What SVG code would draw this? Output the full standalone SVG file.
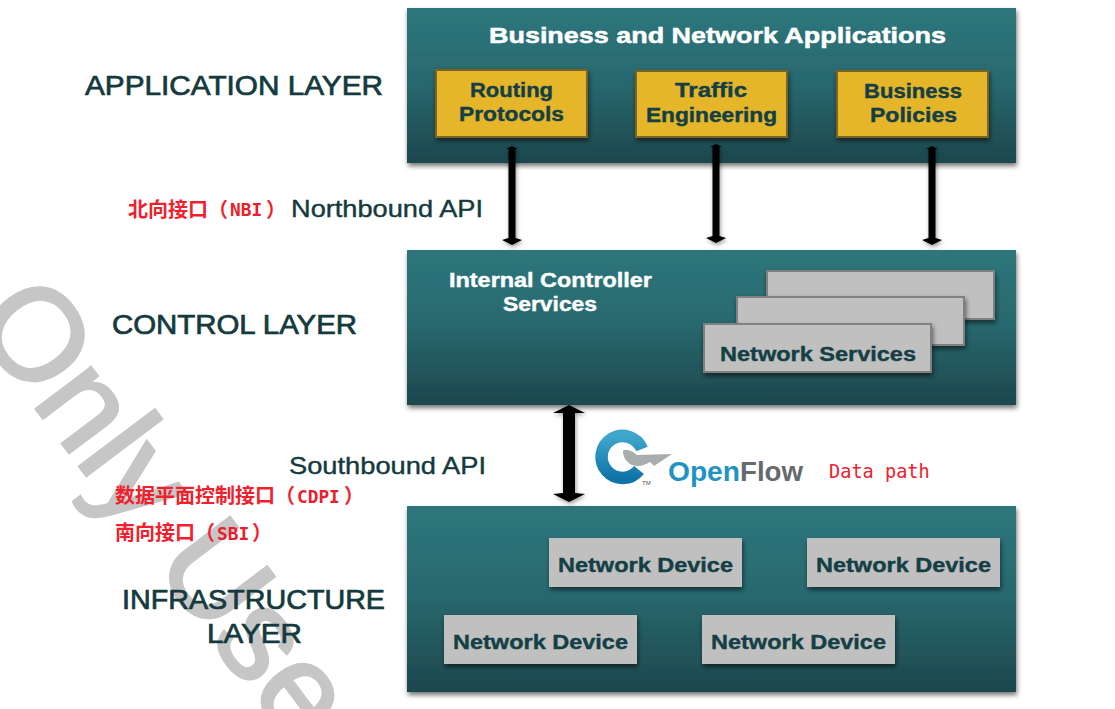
<svg xmlns="http://www.w3.org/2000/svg" width="1115" height="709" viewBox="0 0 1115 709">
<style>
text{font-family:"Liberation Sans",Arial,sans-serif}
.layer{font-size:27px;fill:#143a3e;stroke:#143a3e;stroke-width:.7px}
.api{font-size:24px;fill:#143a3e;stroke:#143a3e;stroke-width:.4px}
.panel{fill:url(#teal);filter:url(#sh)}
.gold{fill:#e5b52a;stroke:#7d6420;stroke-width:2px;filter:url(#sh)}
.grey{fill:#c0c0c0;stroke:#808080;stroke-width:2px;filter:url(#sh)}
.plain{fill:#c0c0c0;filter:url(#sh)}
.box{font-size:20px;font-weight:bold;fill:#143f44;stroke:#143f44;stroke-width:.4px}
.title{font-size:22px;font-weight:bold;fill:#fff;stroke:#fff;stroke-width:.5px}
.white{font-size:20px;font-weight:bold;fill:#fff;stroke:#fff;stroke-width:.4px}
.cn{font-size:20px;font-weight:bold;fill:#f0202c;font-family:"Noto Sans CJK SC","DejaVu Sans Mono",monospace}
.mono{font-family:"DejaVu Sans Mono","Liberation Mono",monospace;font-size:17.8px;font-weight:bold;fill:#e8202c}
.head{fill:#000}
</style>
<defs>
<linearGradient id="teal" x1="0" y1="0" x2="0" y2="1"><stop offset="0" stop-color="#2e767c"/><stop offset=".45" stop-color="#286a70"/><stop offset="1" stop-color="#1d474d"/></linearGradient>
<linearGradient id="ring" x1="0" y1="0" x2="0" y2="1"><stop offset="0" stop-color="#3fa6cc"/><stop offset="1" stop-color="#0f74a8"/></linearGradient>
<filter id="sh" x="-10%" y="-10%" width="120%" height="130%"><feDropShadow dx="1" dy="3" stdDeviation="2.5" flood-color="#000" flood-opacity=".55"/></filter>
<filter id="sh2" x="-100%" y="-10%" width="300%" height="120%"><feDropShadow dx="1" dy="2" stdDeviation="2" flood-color="#000" flood-opacity=".4"/></filter>
</defs>

<g id="watermark"><text transform="translate(-30 321) rotate(53)" font-size="130" fill="#c6c6c6" stroke="#c6c6c6" stroke-width="3" style="font-family:'Liberation Sans',sans-serif">Only Use</text></g>

<g id="application-layer">
<rect class="panel" x="407" y="8" width="609" height="155"/>
<text class="title" x="489" y="43" textLength="457" lengthAdjust="spacingAndGlyphs">Business and Network Applications</text>
<text class="layer" x="85" y="95" textLength="298" lengthAdjust="spacingAndGlyphs">APPLICATION LAYER</text>
</g>
<g id="routing-protocols"><rect class="gold" x="436" y="70" width="151" height="67"/><text class="box" x="470" y="97" textLength="83" lengthAdjust="spacingAndGlyphs">Routing</text><text class="box" x="459" y="121" textLength="105" lengthAdjust="spacingAndGlyphs">Protocols</text></g>
<g id="traffic-engineering"><rect class="gold" x="636" y="71" width="151" height="66"/><text class="box" x="675" y="97" textLength="72" lengthAdjust="spacingAndGlyphs">Traffic</text><text class="box" x="646" y="122" textLength="131" lengthAdjust="spacingAndGlyphs">Engineering</text></g>
<g id="business-policies"><rect class="gold" x="837" y="71" width="151" height="66"/><text class="box" x="864" y="98" textLength="98" lengthAdjust="spacingAndGlyphs">Business</text><text class="box" x="870" y="122" textLength="87" lengthAdjust="spacingAndGlyphs">Policies</text></g>

<g id="control-layer">
<rect class="panel" x="407" y="250" width="609" height="155"/>
<text class="white" x="449" y="287" textLength="203" lengthAdjust="spacingAndGlyphs">Internal Controller</text>
<text class="white" x="503" y="311" textLength="94" lengthAdjust="spacingAndGlyphs">Services</text>
<text class="layer" x="112" y="334" textLength="245" lengthAdjust="spacingAndGlyphs">CONTROL LAYER</text>
</g>
<g id="network-services">
<rect class="grey" x="767" y="271" width="227" height="48"/>
<rect class="grey" x="737" y="297" width="227" height="48"/>
<rect class="grey" x="704" y="324" width="227" height="48"/>
<text class="box" x="720" y="361" textLength="196" lengthAdjust="spacingAndGlyphs">Network Services</text>
</g>

<g id="infrastructure-layer">
<rect class="panel" x="407" y="506" width="609" height="186"/>
<text class="layer" x="122" y="609" textLength="263" lengthAdjust="spacingAndGlyphs">INFRASTRUCTURE</text>
<text class="layer" x="207" y="643" textLength="95" lengthAdjust="spacingAndGlyphs">LAYER</text>
</g>
<g id="device-1"><rect class="plain" x="549" y="538" width="193" height="49"/><text class="box" x="558" y="572" textLength="175" lengthAdjust="spacingAndGlyphs">Network Device</text></g>
<g id="device-2"><rect class="plain" x="807" y="538" width="193" height="49"/><text class="box" x="816" y="572" textLength="175" lengthAdjust="spacingAndGlyphs">Network Device</text></g>
<g id="device-3"><rect class="plain" x="444" y="615" width="193" height="49"/><text class="box" x="453" y="649" textLength="175" lengthAdjust="spacingAndGlyphs">Network Device</text></g>
<g id="device-4"><rect class="plain" x="702" y="615" width="193" height="49"/><text class="box" x="711" y="649" textLength="175" lengthAdjust="spacingAndGlyphs">Network Device</text></g>

<g id="connectors" filter="url(#sh2)">
<path class="head" d="M508.5 238V149L506 149L512 146L518 149L515.5 149V238L522 240L512 245L502 240Z"/>
<path class="head" d="M712.5 236V147L710 147L716 144L722 147L719.5 147V236L726 238L716 243L706 238Z"/>
<path class="head" d="M928.5 238V149L926 149L932 146L938 149L935.5 149V238L942 240L932 245L922 240Z"/>
<path class="head" d="M569 405L585 413L575 413V493L585 494L569 502L553 494L563 493V413L553 413Z"/>
</g>

<g id="labels">
<text class="api" x="291" y="217" textLength="192" lengthAdjust="spacingAndGlyphs">Northbound API</text>
<text class="api" x="289" y="474" textLength="197" lengthAdjust="spacingAndGlyphs">Southbound API</text>
<text class="cn" x="128" y="217">北向接口（<tspan class="mono" x="230" y="216">NBI</tspan><tspan x="266" y="217">）</tspan></text>
<text class="cn" x="115" y="503">数据平面控制接口（<tspan class="mono" x="297" y="503">CDPI</tspan><tspan x="344" y="503">）</tspan></text>
<text class="cn" x="115" y="540">南向接口（<tspan class="mono" x="217" y="540">SBI</tspan><tspan x="252" y="540">）</tspan></text>
<text class="mono" x="829" y="478" style="font-weight:normal;font-size:18.6px;fill:#f0202c">Data path</text>
</g>

<g id="openflow-logo">
<path d="M642 449A21 21 0 1 0 639 470" fill="none" stroke="url(#ring)" stroke-width="12.5"/>
<path d="M623 453Q622 449 628 450Q633 451 637 455L672 454L654 466L650 462Q640 468 632 465Q624 461 623 453Z" fill="#a9adae"/>
<text x="668" y="481" font-size="27" font-weight="bold" fill="#1f93c2" textLength="72" lengthAdjust="spacingAndGlyphs">Open</text>
<text x="740" y="481" font-size="27" font-weight="bold" fill="#666a6c" textLength="63" lengthAdjust="spacingAndGlyphs">Flow</text>
<text x="642" y="485" font-size="6" fill="#555">TM</text>
</g>
</svg>
